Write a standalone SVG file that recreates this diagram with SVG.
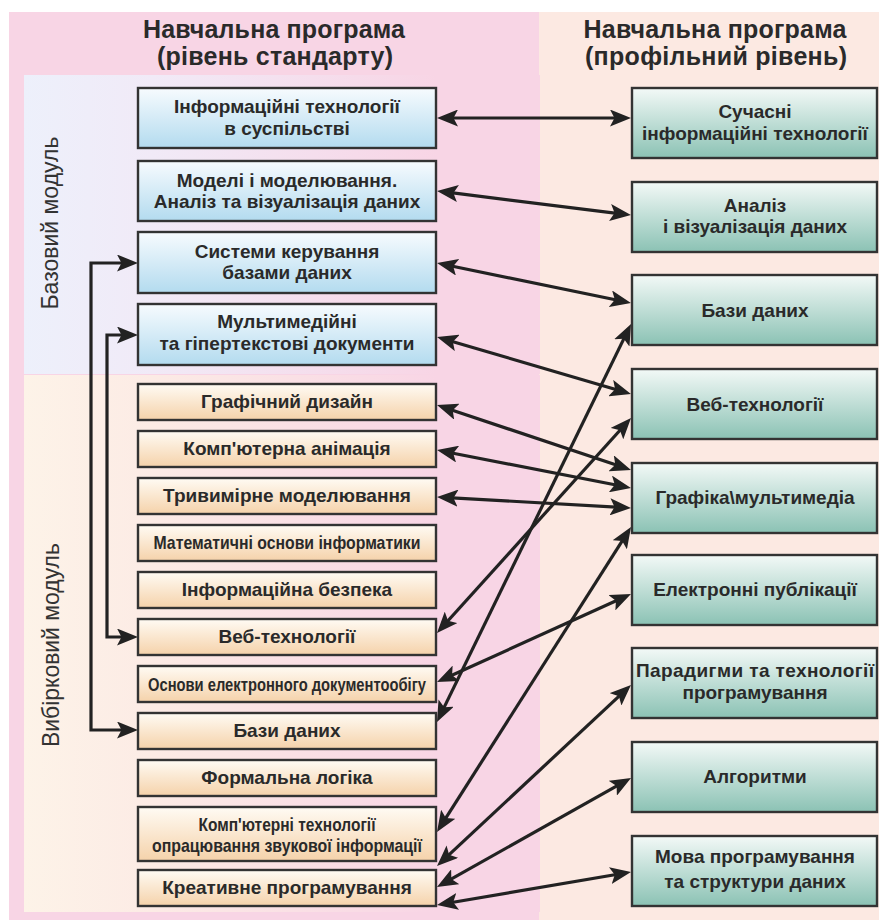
<svg xmlns="http://www.w3.org/2000/svg" width="879" height="920" viewBox="0 0 879 920">
<style>
.t{font-family:"Liberation Sans",Arial,sans-serif;font-weight:bold;font-size:19px;fill:#2a2a2a;text-anchor:middle}
.h{font-family:"Liberation Sans",Arial,sans-serif;font-weight:bold;font-size:25px;fill:#2a2a2a;text-anchor:middle}
.v{font-family:"Liberation Sans",Arial,sans-serif;font-size:23px;fill:#333;text-anchor:middle}
.bb{fill:url(#gBlue);stroke:#333;stroke-width:2.4}
.ob{fill:url(#gOr);stroke:#333;stroke-width:2.4}
.rb{fill:url(#gTeal);stroke:#333;stroke-width:2.4}
.c{fill:none;stroke:#222;stroke-width:3.2;marker-start:url(#ah);marker-end:url(#ah)}
</style>
<defs>
<linearGradient id="gBlue" x1="0" y1="0" x2="0" y2="1"><stop offset="0" stop-color="#f7fbfe"/><stop offset="1" stop-color="#b3dbef"/></linearGradient>
<linearGradient id="gOr" x1="0" y1="0" x2="0" y2="1"><stop offset="0" stop-color="#fffbf4"/><stop offset="1" stop-color="#f5d2aa"/></linearGradient>
<linearGradient id="gTeal" x1="0" y1="0" x2="0" y2="1"><stop offset="0" stop-color="#f3f9f7"/><stop offset="1" stop-color="#8bc2b4"/></linearGradient>
<linearGradient id="gTop" x1="0" y1="0" x2="1" y2="0"><stop offset="0" stop-color="#edf0fb"/><stop offset="0.25" stop-color="#f1eaf7"/><stop offset="0.8" stop-color="#f8d5e5"/><stop offset="1" stop-color="#f8d5e5"/></linearGradient>
<linearGradient id="gBot" x1="0" y1="0" x2="1" y2="0"><stop offset="0" stop-color="#fdf3e8"/><stop offset="0.25" stop-color="#fcebe5"/><stop offset="0.8" stop-color="#f8d5e5"/><stop offset="1" stop-color="#f8d5e5"/></linearGradient>
<marker id="ah" viewBox="0 0 21 17" refX="15" refY="8.5" markerWidth="21" markerHeight="17" markerUnits="userSpaceOnUse" orient="auto-start-reverse"><path d="M0,0 L21,8.5 L0,17 L4.5,8.5 z" fill="#222"/></marker>
</defs>

<g id="background">
<rect x="9" y="12" width="530" height="908" fill="#f8d5e5"/>
<rect x="539" y="12" width="340" height="908" fill="#fce9e2"/>
<rect x="24" y="75" width="516" height="299" fill="url(#gTop)"/>
<rect x="24" y="375" width="516" height="537" fill="url(#gBot)"/>
</g>

<g id="headings">
<text class="h" x="274" y="38" textLength="262">Навчальна програма</text>
<text class="h" x="275" y="65" textLength="236">(рівень стандарту)</text>
<text class="h" x="715" y="38" textLength="263">Навчальна програма</text>
<text class="h" x="716" y="65" textLength="262">(профільний рівень)</text>
<text class="v" transform="translate(58,223) rotate(-90)" textLength="173">Базовий модуль</text>
<text class="v" transform="translate(59,645) rotate(-90)" textLength="204">Вибірковий модуль</text>
</g>

<g id="connectors">
<path class="c" d="M132,263 H91 V730 H132"/>
<path class="c" d="M132,335 H107 V637 H132"/>
<path class="c" d="M443,118 L625,118"/>
<path class="c" d="M443,191.7 L625,214.3"/>
<path class="c" d="M442.9,264.2 L625.1,301.8"/>
<path class="c" d="M442.8,338.7 L625.2,392.3"/>
<path class="c" d="M442.7,406.9 L625.3,468.1"/>
<path class="c" d="M442.9,451.2 L625.1,486.8"/>
<path class="c" d="M443,497.3 L625,507.7"/>
<path class="c" d="M439.6,716.6 L628.4,329.4"/>
<path class="c" d="M441,628.5 L627,422.5"/>
<path class="c" d="M440.2,826.9 L627.8,532.1"/>
<path class="c" d="M442.5,679.5 L625.5,596.5"/>
<path class="c" d="M441.4,861.9 L626.6,689.1"/>
<path class="c" d="M442.2,884.1 L625.8,780.9"/>
<path class="c" d="M442.9,904 L625.1,873"/>
</g>

<g id="n-it-society"><rect class="bb" x="138" y="88" width="298" height="60"/><text class="t" x="287" y="113">Інформаційні технології</text><text class="t" x="287" y="135">в суспільстві</text></g>
<g id="n-models"><rect class="bb" x="138" y="161" width="298" height="60"/><text class="t" x="287" y="187">Моделі і моделювання.</text><text class="t" x="287" y="208">Аналіз та візуалізація даних</text></g>
<g id="n-dbms"><rect class="bb" x="138" y="232" width="298" height="61"/><text class="t" x="287" y="258">Системи керування</text><text class="t" x="287" y="279">базами даних</text></g>
<g id="n-multimedia"><rect class="bb" x="138" y="304" width="298" height="61"/><text class="t" x="287" y="328">Мультимедійні</text><text class="t" x="287" y="350">та гіпертекстові документи</text></g>

<g id="n-graphic-design"><rect class="ob" x="138" y="384" width="298" height="36"/><text class="t" x="287" y="408">Графічний дизайн</text></g>
<g id="n-animation"><rect class="ob" x="138" y="431" width="298" height="36"/><text class="t" x="287" y="455">Комп'ютерна анімація</text></g>
<g id="n-3d"><rect class="ob" x="138" y="478" width="298" height="36"/><text class="t" x="287" y="502">Тривимірне моделювання</text></g>
<g id="n-math"><rect class="ob" x="138" y="525" width="298" height="36"/><text class="t" x="287" y="549" textLength="267" lengthAdjust="spacingAndGlyphs">Математичні основи інформатики</text></g>
<g id="n-security"><rect class="ob" x="138" y="572" width="298" height="36"/><text class="t" x="287" y="596">Інформаційна безпека</text></g>
<g id="n-web-l"><rect class="ob" x="138" y="619" width="298" height="36"/><text class="t" x="287" y="643">Веб-технології</text></g>
<g id="n-edoc"><rect class="ob" x="138" y="666" width="298" height="36"/><text class="t" x="287" y="691" textLength="278" lengthAdjust="spacingAndGlyphs">Основи електронного документообігу</text></g>
<g id="n-db-l"><rect class="ob" x="138" y="713" width="298" height="36"/><text class="t" x="287" y="737">Бази даних</text></g>
<g id="n-logic"><rect class="ob" x="138" y="760" width="298" height="36"/><text class="t" x="287" y="784">Формальна логіка</text></g>
<g id="n-sound"><rect class="ob" x="138" y="807" width="298" height="54"/><text class="t" x="287" y="831" textLength="177" lengthAdjust="spacingAndGlyphs">Комп'ютерні технології</text><text class="t" x="287" y="852" textLength="270" lengthAdjust="spacingAndGlyphs">опрацювання звукової інформації</text></g>
<g id="n-creative"><rect class="ob" x="138" y="870" width="298" height="36"/><text class="t" x="287" y="894">Креативне програмування</text></g>

<g id="n-modern-it"><rect class="rb" x="632" y="88" width="245" height="70"/><text class="t" x="755" y="118">Сучасні</text><text class="t" x="755" y="140">інформаційні технології</text></g>
<g id="n-analysis"><rect class="rb" x="632" y="182" width="245" height="70"/><text class="t" x="755" y="212">Аналіз</text><text class="t" x="755" y="233">і візуалізація даних</text></g>
<g id="n-db-r"><rect class="rb" x="632" y="275" width="245" height="70"/><text class="t" x="755" y="317">Бази даних</text></g>
<g id="n-web-r"><rect class="rb" x="632" y="369" width="245" height="70"/><text class="t" x="755" y="411">Веб-технології</text></g>
<g id="n-graphics"><rect class="rb" x="632" y="463" width="245" height="70"/><text class="t" x="755" y="504">Графіка\мультимедіа</text></g>
<g id="n-epub"><rect class="rb" x="632" y="555" width="245" height="70"/><text class="t" x="755" y="596">Електронні публікації</text></g>
<g id="n-paradigms"><rect class="rb" x="632" y="648" width="245" height="70"/><text class="t" x="755" y="677" textLength="238">Парадигми та технології</text><text class="t" x="755" y="699">програмування</text></g>
<g id="n-algorithms"><rect class="rb" x="632" y="742" width="245" height="70"/><text class="t" x="755" y="783">Алгоритми</text></g>
<g id="n-lang"><rect class="rb" x="632" y="836" width="245" height="70"/><text class="t" x="755" y="863">Мова програмування</text><text class="t" x="755" y="888">та структури даних</text></g>
</svg>
